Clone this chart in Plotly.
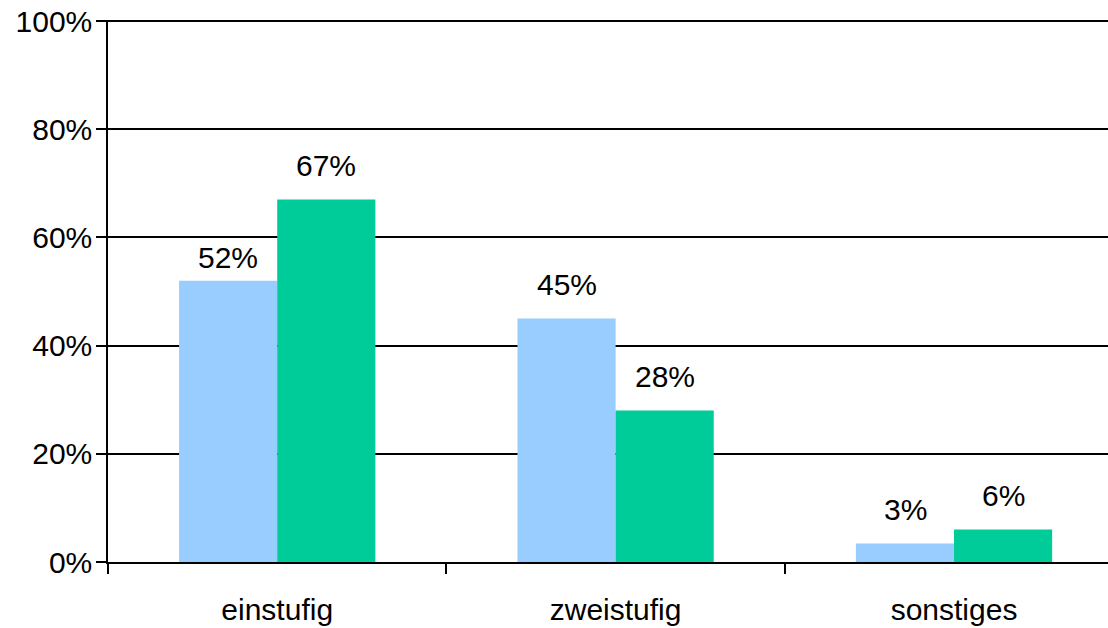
import plotly.graph_objects as go

categories = ["einstufig", "zweistufig", "sonstiges"]
series_a = [52, 45, 3.4]
series_b = [67, 28, 6]
y_ticks = [0, 20, 40, 60, 80, 100]
y_tick_labels = ["0%", "20%", "40%", "60%", "80%", "100%"]

FONT = "Liberation Sans, Arial, sans-serif"
FS = 30
BLUE = "#99CCFF"
GREEN = "#00CC99"

fig = go.Figure()
fig.add_trace(go.Bar(x=categories, y=series_a, marker=dict(color=BLUE, line=dict(width=0)),
                     hoverinfo="skip"))
fig.add_trace(go.Bar(x=categories, y=series_b, marker=dict(color=GREEN, line=dict(width=0)),
                     hoverinfo="skip"))

annotations = []
for i, c in enumerate(categories):
    for vals, xs in ((series_a, -49), (series_b, 49)):
        v = vals[i]
        shift = 34
        if vals is series_a and i == 0:
            shift = 23
        annotations.append(dict(x=c, y=v, xref="x", yref="y", text=f"{round(v)}%",
                                showarrow=False, xshift=xs, yshift=shift,
                                yanchor="middle", xanchor="center",
                                font=dict(family=FONT, size=FS, color="black")))

fig.update_layout(
    width=1108, height=628,
    margin=dict(l=108, r=0, t=20, b=66, autoexpand=False),
    paper_bgcolor="white", plot_bgcolor="white",
    barmode="group", bargap=0.42, bargroupgap=0,
    showlegend=False,
    annotations=annotations,
    font=dict(family=FONT, size=FS, color="black"),
)
fig.update_xaxes(
    type="category", range=[-0.5, 2.455], automargin=False,
    tickson="boundaries", ticks="outside", ticklen=10, tickwidth=1.5, tickcolor="black",
    showline=True, linecolor="black", linewidth=1.5,
    showgrid=False, ticklabelstandoff=20,
    tickfont=dict(family=FONT, size=FS, color="black"),
)
fig.update_yaxes(
    range=[0, 100.2], tickvals=y_ticks, ticktext=y_tick_labels, automargin=False,
    ticks="outside", ticklen=10, tickwidth=1.5, tickcolor="black",
    showline=True, linecolor="black", linewidth=1.5,
    showgrid=True, gridcolor="black", gridwidth=1.5,
    zeroline=False, ticklabelstandoff=-2, ticklabeloverflow="allow",
    tickfont=dict(family=FONT, size=FS, color="black"),
)

fig.write_html("out.html",
               config={"displayModeBar": False},
               post_script="document.body.style.margin='0';document.body.style.overflow='hidden';")
